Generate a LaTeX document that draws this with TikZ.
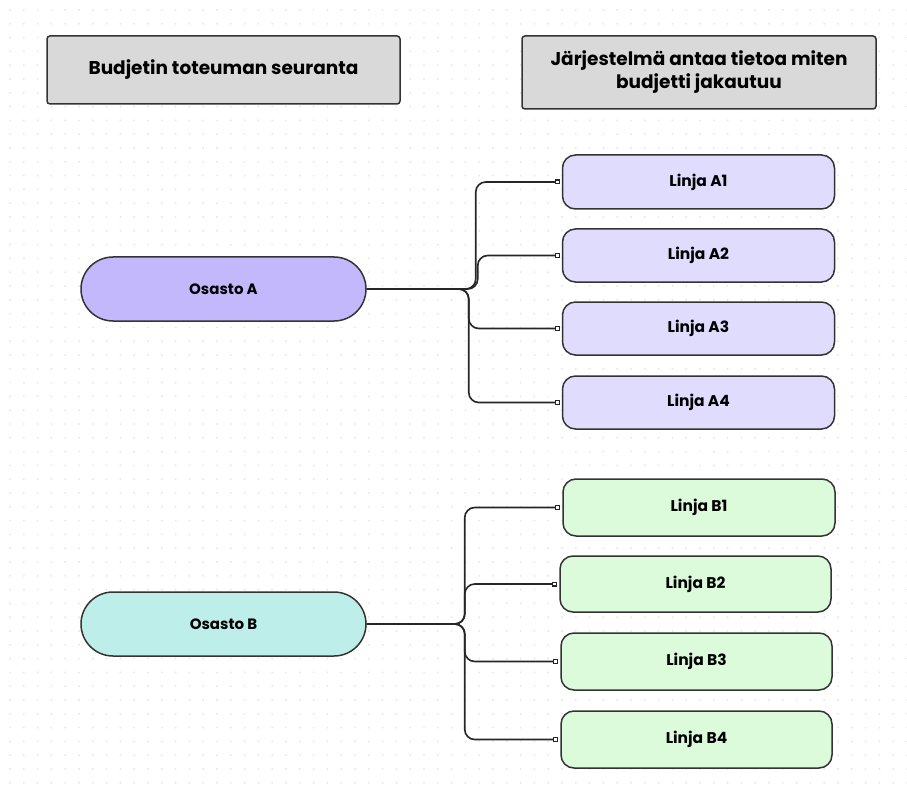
\documentclass[tikz,border=0pt]{standalone}
\usepackage{fontspec}
\setmainfont{Poppins}
\usetikzlibrary{arrows.meta}
\definecolor{otsikko}{HTML}{D9D9D9}
\definecolor{osastoA}{HTML}{C4B8FC}
\definecolor{linjaA}{HTML}{E0DCFD}
\definecolor{osastoB}{HTML}{BDEEE9}
\definecolor{linjaB}{HTML}{DBFBDB}
\definecolor{piste}{HTML}{E6E8EC}

\begin{document}
\begin{tikzpicture}[x=1pt,y=-1pt,
	otsikko/.style = {draw=black!80, line width=1.5pt, fill=otsikko, rounded corners=3pt, font=\bfseries\fontsize{18.5}{23}\selectfont, align=center},
	osasto/.style = {draw=black!80, line width=1.5pt, rounded corners=32pt, minimum width=285pt, minimum height=64pt, font=\bfseries\fontsize{15}{18}\selectfont},
	linja/.style = {draw=black!80, line width=1.5pt, rounded corners=13pt, minimum width=272pt, font=\bfseries\fontsize{15.5}{18}\selectfont},
	yhteys/.style = {draw=black!85, line width=1.6pt, rounded corners=10pt, -{Square[open,length=5pt,width=5pt,line width=1.1pt]}}]
	\useasboundingbox (0,0) rectangle (907,794);
	\foreach \i in {0,...,65}
		\foreach \j in {0,...,57}
			\fill[piste] (10+\i*13.8,10+\j*13.8) circle (1.1);
	\node[otsikko, minimum width=353pt, minimum height=68pt] (seuranta) at (223.5,70) {Budjetin toteuman seuranta};
	\node[otsikko, minimum width=354pt, minimum height=73pt] (jako) at (699,72.5) {Järjestelmä antaa tietoa miten\\budjetti jakautuu};
	\node[osasto, fill=osastoA] (osA) at (223.5,289) {Osasto A};
	\node[osasto, fill=osastoB] (osB) at (223.5,624) {Osasto B};
	\node[linja, fill=linjaA, minimum height=54pt] (a1) at (698.5,182) {Linja A1};
	\node[linja, fill=linjaA, minimum height=53pt] (a2) at (698.5,255.5) {Linja A2};
	\node[linja, fill=linjaA, minimum height=53pt] (a3) at (698.5,328.5) {Linja A3};
	\node[linja, fill=linjaA, minimum height=53pt] (a4) at (698.5,402.5) {Linja A4};
	\node[linja, fill=linjaB, minimum height=57pt] (b1) at (699,507.5) {Linja B1};
	\node[linja, fill=linjaB, minimum height=56pt, minimum width=271pt] (b2) at (695.5,584) {Linja B2};
	\node[linja, fill=linjaB, minimum height=57pt, minimum width=271pt] (b3) at (696.5,661.5) {Linja B3};
	\node[linja, fill=linjaB, minimum height=57pt, minimum width=271pt] (b4) at (696.5,739.5) {Linja B4};
	\draw[yhteys] (osA.east) -- ++(109,0) |- ([xshift=-2pt]a1.west);
	\draw[yhteys] (osA.east) -- ++(111,0) |- ([xshift=-2pt]a2.west);
	\draw[yhteys] (osA.east) -- ++(102,0) |- ([xshift=-2pt]a3.west);
	\draw[yhteys] (osA.east) -- ++(102,0) |- ([xshift=-2pt]a4.west);
	\draw[yhteys] (osB.east) -- ++(98,0) |- ([xshift=-2pt]b1.west);
	\draw[yhteys] (osB.east) -- ++(98,0) |- ([xshift=-2pt]b2.west);
	\draw[yhteys] (osB.east) -- ++(98,0) |- ([xshift=-2pt]b3.west);
	\draw[yhteys] (osB.east) -- ++(98,0) |- ([xshift=-2pt]b4.west);
\end{tikzpicture}
\end{document}
